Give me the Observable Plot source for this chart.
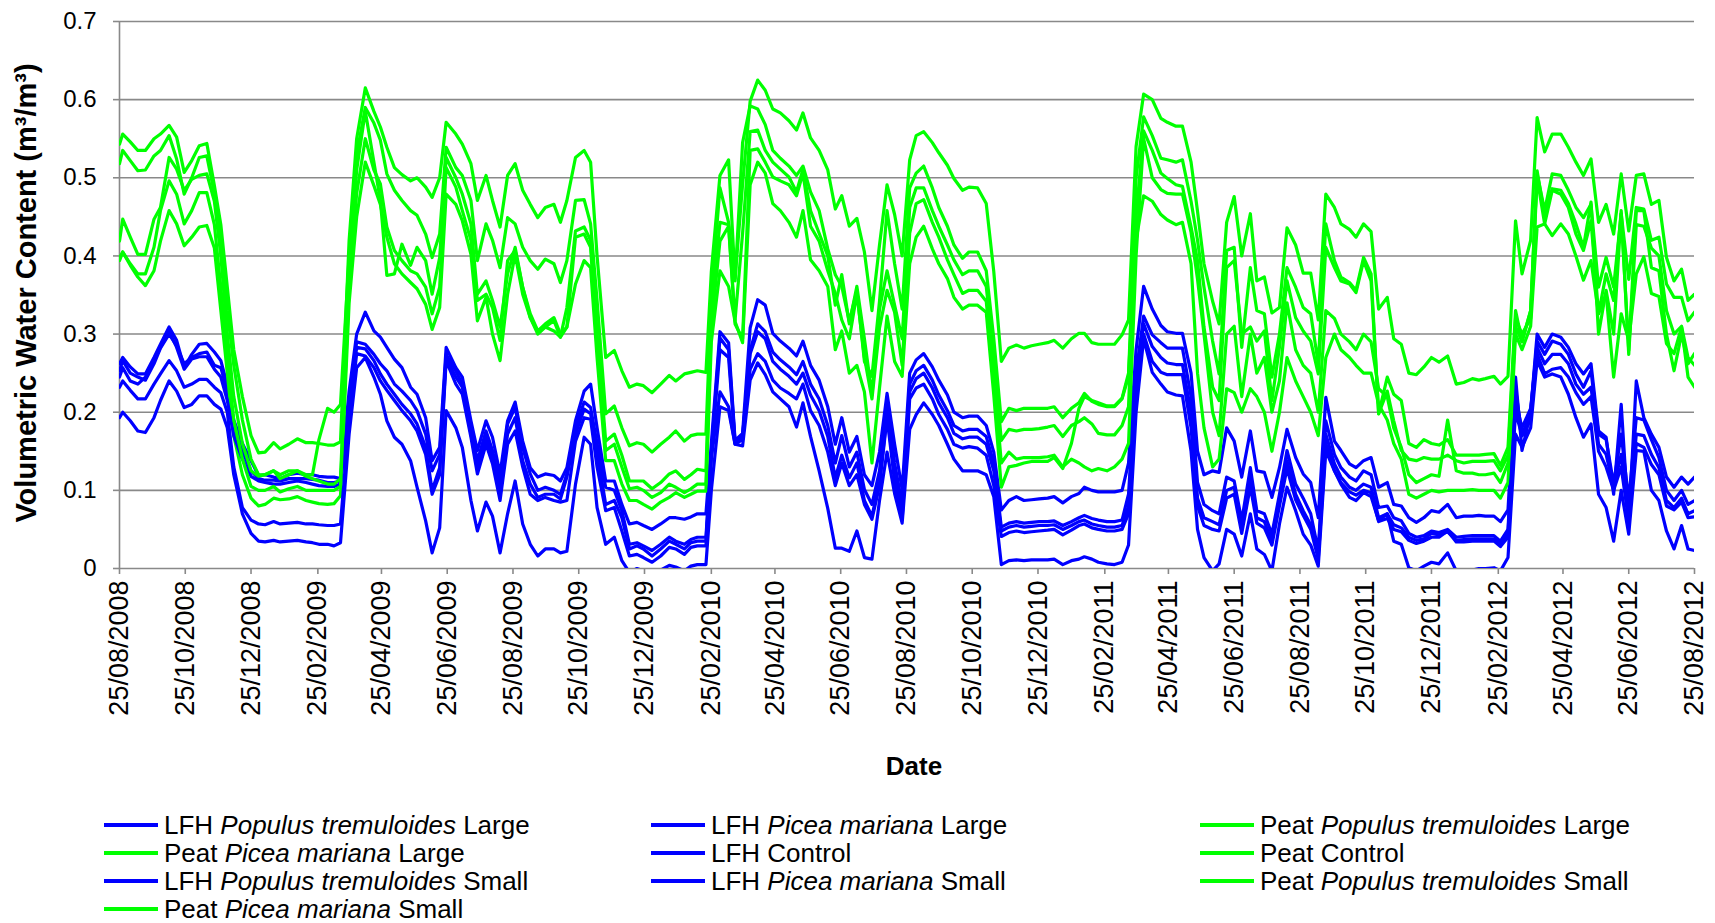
<!DOCTYPE html>
<html><head><meta charset="utf-8">
<script src="https://cdn.jsdelivr.net/npm/d3@7"></script>
<script src="https://cdn.jsdelivr.net/npm/@observablehq/plot@0.6"></script>
<style>
body{margin:0;background:#fff;font-family:'Liberation Sans',Arial,sans-serif;color:#000;}
#wrap{position:relative;width:1715px;height:923px;overflow:hidden;background:#fff;}
#chart{position:absolute;left:0;top:0;}
.leg{position:absolute;display:flex;align-items:center;font-size:26px;line-height:24px;height:24px;white-space:nowrap;}
.sw{width:54px;height:4px;margin-right:6px;flex:none;}
.ttl{position:absolute;font-weight:bold;white-space:nowrap;transform:translate(-50%,-50%);}
</style></head>
<body><div id="wrap"><div id="chart"></div></div>
<script>
// x values: days since 25/08/2008
const startDate = "2008-08-25";
const dayOffsets = [
0,3,10,17,24,32,38,46,53,60,67,74,81,88,94,100,106,114,122,129,
135,143,149,157,165,173,179,185,193,199,205,
213,220,228,236,242,248,255,262,270,276,284,290,297,
303,312,318,326,332,340,346,353,360,367,374,381,388,395,403,409,415,423,431,437,443,451,459,466,473,480,486,494,502,510,516,524,530,536,544,
549,557,565,571,578,585,592,599,606,613,621,628,634,641,649,657,664,670,677,684,691,698,705,712,719,726,733,739,746,754,760,768,774,782,788,796,804,811,818,
825,832,839,846,853,861,867,875,883,890,895,902,908,916,923,930,936,943,
950,958,966,972,980,986,994,1000,1006,1014,1020,1027,1034,1041,1049,1055,1062,1069,1076,1083,1091,1098,1105,1112,1119,1127,1133,1141,1147,1154,1161,1168,1176,1182,1189,1196,1203,1210,1217,1224,1232,1240,1247,1255,1261,1267,1275,1281,1288,
1295,1301,1309,1315,1322,1329,1337,1344,1351,1358,1365,1372,1379,1386,1393,1400,1407,1414,1421,1428,1435,1442,1449,1455,1461
];

const lfhPopulusLarge = [
.262,.270,.258,.249,.249,.270,.287,.309,.292,.257,.274,.287,.288,.277,.266,.235,.190,.160,.138,.119,
.120,.117,.115,.120,.122,.120,.120,.118,.117,.117,.115,
.227,.300,.328,.304,.296,.283,.268,.257,.232,.223,.193,.138,.155,
.283,.257,.245,.189,.151,.189,.168,.121,.189,.213,.163,.129,.117,.121,.119,.112,.129,.189,.227,.236,.180,.112,.112,.082,.057,.059,.055,.050,.057,.065,.065,.063,.066,.070,.070,
.160,.303,.289,.164,.173,.308,.344,.337,.301,.291,.282,.272,.291,.260,.241,.207,.159,.193,.149,.169,.120,.106,.149,.224,.159,.101,.250,.267,.275,.258,.241,.222,.200,.193,.195,.195,.183,.149,.075,
.087,.092,.087,.088,.089,.090,.092,.084,.092,.096,.104,.100,.098,.098,.098,.100,.135,.280,
.361,.332,.311,.303,.301,.301,.250,.150,.120,.125,.123,.180,.163,.117,.176,.125,.123,.091,.129,.178,.142,.121,.110,.065,.219,.163,.151,.134,.129,.138,.142,.104,.110,.082,.080,.065,.059,.065,.074,.072,.082,.065,.067,.067,.068,.067,.067,.060,.075,
.245,.151,.200,.300,.283,.300,.296,.283,.262,.249,.262,.176,.168,.095,.210,.057,.240,.193,.172,.155,.117,.104,.117,.108,.117
];
const lfhPiceaLarge = [
.253,.266,.250,.245,.241,.262,.282,.300,.285,.262,.270,.275,.277,.260,.257,.227,.180,.150,.125,.115,
.113,.113,.112,.115,.115,.115,.114,.113,.110,.110,.112,
.215,.290,.287,.274,.262,.253,.236,.227,.215,.202,.172,.125,.146,
.274,.253,.236,.180,.138,.176,.151,.108,.185,.206,.155,.121,.100,.104,.100,.095,.121,.180,.213,.206,.160,.104,.100,.074,.031,.033,.029,.023,.031,.040,.035,.031,.037,.040,.040,
.150,.295,.280,.162,.170,.279,.313,.303,.277,.267,.258,.248,.265,.236,.217,.183,.135,.170,.130,.149,.101,.082,.125,.217,.135,.082,.236,.253,.260,.241,.222,.202,.183,.176,.178,.178,.169,.135,.053,
.058,.060,.058,.059,.060,.060,.061,.055,.060,.065,.068,.064,.062,.060,.060,.062,.095,.250,
.323,.299,.289,.282,.282,.282,.220,.110,.082,.074,.070,.117,.112,.061,.129,.074,.070,.044,.095,.151,.108,.090,.070,.023,.189,.146,.129,.117,.112,.125,.120,.078,.080,.065,.061,.045,.040,.042,.048,.046,.050,.040,.041,.042,.042,.042,.042,.035,.050,
.230,.170,.200,.291,.274,.291,.287,.274,.249,.232,.253,.172,.165,.108,.172,.087,.193,.190,.165,.142,.100,.087,.100,.082,.087
];
const peatPopulusLarge = [
.543,.556,.546,.535,.535,.550,.556,.567,.552,.507,.522,.541,.544,.490,.440,.360,.280,.220,.170,.148,
.149,.161,.153,.159,.166,.161,.161,.160,.158,.158,.162,
.420,.550,.615,.585,.565,.539,.513,.504,.496,.500,.488,.475,.500,
.571,.556,.543,.518,.471,.503,.471,.437,.503,.518,.484,.466,.449,.462,.466,.443,.471,.526,.535,.520,.400,.270,.279,.253,.232,.236,.234,.225,.236,.247,.240,.249,.251,.253,.251,
.380,.503,.523,.371,.492,.598,.625,.612,.588,.583,.573,.561,.583,.551,.535,.510,.460,.477,.438,.448,.405,.330,.414,.491,.453,.400,.523,.554,.559,.545,.532,.516,.499,.484,.488,.487,.467,.380,.265,
.282,.286,.282,.285,.287,.289,.292,.282,.294,.301,.301,.289,.287,.287,.287,.299,.318,.540,
.607,.600,.576,.571,.566,.566,.520,.457,.390,.342,.313,.443,.476,.400,.454,.368,.373,.327,.334,.436,.414,.378,.378,.318,.479,.462,.441,.434,.424,.441,.431,.332,.347,.294,.287,.250,.248,.258,.270,.264,.272,.236,.238,.243,.241,.243,.246,.236,.246,
.445,.377,.420,.577,.533,.556,.556,.539,.520,.503,.524,.443,.466,.428,.505,.432,.503,.505,.466,.471,.398,.368,.383,.343,.351
];
const peatPiceaLarge = [
.518,.535,.522,.509,.510,.528,.535,.554,.524,.479,.500,.526,.528,.480,.420,.330,.260,.190,.140,.120,
.120,.125,.120,.125,.125,.120,.120,.165,.205,.200,.210,
.400,.530,.590,.570,.548,.505,.484,.471,.458,.452,.428,.398,.428,
.539,.513,.503,.471,.394,.441,.420,.385,.449,.441,.411,.394,.383,.396,.390,.366,.394,.471,.472,.441,.343,.198,.208,.180,.157,.161,.159,.149,.159,.168,.176,.163,.170,.172,.172,
.350,.487,.443,.368,.545,.592,.588,.568,.535,.525,.515,.503,.515,.482,.458,.409,.376,.361,.316,.356,.265,.246,.342,.458,.390,.332,.487,.506,.515,.487,.462,.438,.414,.397,.405,.405,.381,.294,.188,
.205,.202,.205,.205,.205,.205,.207,.193,.205,.212,.224,.214,.210,.207,.207,.217,.246,.500,
.578,.554,.525,.523,.520,.523,.470,.420,.360,.291,.249,.407,.411,.283,.385,.330,.326,.245,.300,.385,.360,.334,.326,.262,.441,.394,.373,.366,.356,.398,.377,.198,.245,.223,.215,.160,.155,.165,.160,.158,.165,.145,.145,.145,.145,.146,.147,.132,.155,
.330,.291,.330,.505,.458,.505,.503,.484,.462,.449,.466,.360,.398,.360,.454,.370,.462,.460,.420,.424,.364,.347,.347,.317,.328
];
const lfhControl = [
.193,.200,.189,.176,.174,.193,.215,.240,.227,.206,.210,.221,.221,.210,.204,.180,.120,.070,.045,.035,
.034,.036,.034,.035,.036,.034,.033,.031,.031,.029,.033,
.172,.257,.270,.245,.223,.189,.168,.159,.138,.104,.061,.020,.052,
.202,.180,.155,.087,.048,.085,.067,.020,.070,.112,.057,.031,.016,.025,.025,.020,.022,.108,.168,.159,.078,.031,.040,.010,-.005,0,-.003,-.008,-.002,.004,.002,-.003,.003,.005,.005,
.100,.207,.202,.159,.157,.241,.263,.248,.226,.217,.207,.181,.212,.169,.125,.077,.026,.026,.022,.048,.014,.012,.087,.149,.096,.058,.178,.197,.212,.197,.183,.159,.140,.125,.125,.125,.120,.092,.005,
.010,.011,.010,.011,.011,.011,.012,.005,.010,.012,.015,.012,.008,.006,.005,.008,.030,.200,
.294,.251,.236,.226,.222,.221,.150,.050,.014,-.003,.006,.050,.044,.016,.070,.025,.018,-.003,.057,.104,.074,.044,.030,.003,.151,.125,.108,.091,.087,.097,.092,.061,.070,.035,.031,.001,-.003,.003,.008,.006,.020,-.003,-.003,-.002,.000,.000,.001,-.003,.014,
.172,.155,.180,.266,.245,.249,.245,.223,.193,.168,.185,.095,.078,.035,.100,.044,.151,.150,.100,.087,.048,.025,.055,.025,.023
];
const peatControl = [
.394,.405,.388,.373,.362,.381,.419,.458,.441,.413,.424,.437,.439,.410,.330,.250,.170,.120,.090,.080,
.082,.090,.088,.089,.092,.087,.085,.083,.082,.083,.093,
.340,.450,.520,.490,.466,.424,.390,.377,.366,.358,.338,.306,.334,
.479,.466,.445,.402,.317,.347,.300,.266,.351,.402,.351,.321,.300,.309,.304,.296,.309,.364,.394,.385,.270,.138,.138,.108,.087,.087,.082,.076,.085,.091,.097,.091,.095,.099,.099,
.290,.381,.361,.316,.289,.491,.520,.506,.467,.458,.443,.424,.458,.395,.381,.361,.280,.304,.250,.260,.226,.135,.231,.323,.265,.246,.390,.424,.438,.409,.390,.371,.347,.332,.337,.337,.328,.222,.104,
.130,.132,.135,.137,.137,.137,.142,.128,.160,.205,.220,.215,.212,.208,.208,.218,.250,.420,
.477,.470,.453,.446,.440,.443,.390,.250,.180,.130,.140,.230,.225,.200,.230,.220,.200,.150,.200,.270,.240,.220,.200,.170,.270,.300,.280,.270,.260,.250,.250,.210,.190,.160,.140,.095,.090,.095,.100,.098,.100,.100,.100,.101,.100,.100,.100,.090,.110,
.300,.280,.310,.437,.441,.426,.441,.428,.400,.369,.394,.326,.352,.245,.326,.292,.377,.399,.352,.348,.288,.275,.309,.245,.232
];
const lfhPopulusSmall = [
.245,.257,.240,.236,.245,.266,.283,.304,.283,.255,.268,.271,.271,.255,.245,.215,.170,.140,.118,.112,
.110,.108,.108,.110,.112,.110,.108,.106,.105,.105,.108,
.205,.283,.281,.266,.249,.236,.223,.210,.198,.185,.155,.100,.129,
.270,.245,.232,.172,.129,.168,.142,.100,.172,.193,.138,.108,.091,.095,.095,.089,.117,.172,.204,.198,.150,.082,.087,.065,.025,.029,.025,.016,.025,.035,.031,.025,.033,.035,.035,
.145,.280,.270,.160,.168,.275,.303,.294,.265,.255,.246,.236,.250,.222,.202,.169,.116,.145,.116,.135,.087,.067,.111,.197,.120,.072,.226,.243,.250,.231,.212,.193,.173,.166,.168,.168,.159,.125,.048,
.053,.055,.053,.054,.055,.055,.056,.050,.055,.060,.062,.057,.055,.053,.053,.055,.080,.240,
.313,.284,.270,.263,.261,.261,.200,.090,.065,.060,.056,.100,.104,.052,.117,.065,.060,.035,.087,.138,.095,.074,.056,.018,.172,.134,.117,.104,.100,.108,.104,.065,.070,.056,.052,.040,.036,.038,.045,.043,.047,.036,.037,.038,.038,.038,.038,.032,.045,
.215,.180,.205,.283,.262,.274,.274,.262,.236,.223,.232,.159,.146,.104,.146,.065,.172,.170,.146,.129,.087,.078,.090,.070,.074
];
const lfhPiceaSmall = [
.232,.240,.228,.217,.217,.236,.249,.266,.253,.232,.236,.242,.242,.232,.225,.200,.130,.078,.062,.057,
.056,.060,.057,.058,.059,.057,.057,.056,.055,.055,.057,
.190,.275,.272,.257,.240,.228,.215,.202,.189,.176,.146,.095,.120,
.266,.236,.223,.168,.121,.159,.134,.087,.159,.176,.130,.095,.087,.091,.087,.085,.087,.163,.193,.191,.130,.074,.078,.048,.016,.018,.014,.008,.016,.027,.025,.018,.027,.029,.029,
.140,.226,.207,.159,.165,.255,.275,.265,.241,.231,.224,.217,.236,.202,.183,.149,.106,.135,.106,.120,.082,.063,.106,.193,.111,.063,.217,.231,.236,.217,.197,.178,.159,.154,.156,.154,.145,.106,.041,
.046,.048,.046,.047,.048,.049,.050,.043,.049,.055,.057,.052,.050,.048,.048,.050,.070,.230,
.300,.265,.251,.248,.248,.248,.180,.080,.055,.050,.048,.090,.095,.045,.105,.058,.052,.030,.080,.128,.088,.068,.050,.012,.160,.125,.110,.098,.094,.100,.097,.060,.064,.050,.047,.036,.032,.035,.040,.040,.048,.034,.034,.035,.035,.035,.035,.028,.040,
.200,.170,.190,.275,.249,.255,.257,.245,.225,.210,.220,.150,.130,.100,.130,.060,.160,.155,.133,.120,.080,.075,.085,.065,.066
];
const peatPopulusSmall = [
.419,.447,.424,.402,.402,.447,.462,.526,.511,.484,.498,.503,.505,.470,.400,.300,.220,.160,.125,.118,
.120,.125,.115,.120,.125,.118,.115,.112,.108,.108,.115,
.380,.510,.585,.520,.471,.375,.377,.415,.388,.411,.394,.351,.398,
.526,.500,.479,.441,.351,.368,.343,.309,.377,.411,.360,.326,.304,.309,.317,.296,.334,.432,.437,.420,.300,.163,.172,.145,.112,.112,.112,.102,.110,.121,.125,.114,.120,.127,.125,
.330,.443,.440,.318,.429,.559,.561,.535,.520,.511,.501,.482,.511,.458,.429,.400,.337,.376,.313,.361,.294,.222,.332,.381,.337,.294,.462,.487,.487,.458,.438,.414,.395,.376,.381,.381,.361,.270,.164,
.178,.176,.178,.178,.179,.181,.183,.169,.183,.188,.193,.185,.173,.171,.171,.183,.207,.450,
.560,.535,.506,.499,.491,.489,.437,.394,.309,.232,.215,.385,.394,.300,.309,.291,.304,.215,.283,.368,.321,.304,.291,.249,.411,.385,.368,.364,.353,.394,.368,.198,.227,.189,.151,.140,.138,.142,.140,.140,.145,.138,.135,.137,.137,.137,.138,.125,.145,
.320,.300,.320,.500,.441,.484,.479,.462,.428,.407,.445,.326,.377,.343,.458,.274,.440,.438,.410,.400,.330,.300,.310,.270,.260
];
const peatPiceaSmall = [
.398,.405,.390,.377,.377,.411,.458,.496,.479,.441,.458,.481,.481,.440,.360,.270,.190,.140,.105,.100,
.100,.105,.098,.102,.105,.100,.100,.100,.100,.100,.105,
.360,.480,.550,.510,.492,.437,.407,.394,.381,.377,.360,.326,.360,
.513,.488,.458,.420,.343,.351,.334,.292,.394,.407,.360,.321,.304,.313,.321,.300,.309,.424,.428,.411,.290,.151,.159,.130,.102,.104,.100,.091,.097,.108,.104,.097,.102,.108,.108,
.310,.419,.438,.313,.294,.535,.537,.520,.501,.496,.491,.477,.506,.438,.419,.381,.352,.318,.294,.352,.270,.217,.308,.356,.328,.260,.429,.467,.472,.443,.424,.395,.376,.352,.356,.356,.342,.246,.135,
.149,.140,.142,.142,.142,.143,.145,.130,.140,.135,.130,.125,.128,.125,.130,.140,.160,.400,
.550,.500,.485,.480,.479,.479,.430,.370,.300,.200,.170,.300,.310,.220,.300,.250,.270,.200,.240,.340,.280,.260,.250,.200,.330,.320,.300,.290,.280,.300,.290,.230,.220,.180,.155,.120,.110,.115,.120,.118,.190,.125,.122,.122,.120,.120,.122,.110,.135,
.310,.290,.330,.509,.450,.486,.484,.467,.441,.411,.469,.300,.356,.300,.454,.279,.458,.458,.385,.381,.300,.253,.300,.262,.275
];

const seriesNames = [
  "LFH Populus tremuloides Large", "LFH Picea mariana Large", "Peat Populus tremuloides Large",
  "Peat Picea mariana Large", "LFH Control", "Peat Control",
  "LFH Populus tremuloides Small", "LFH Picea mariana Small", "Peat Populus tremuloides Small",
  "Peat Picea mariana Small"
];
const seriesColors = ["#0000FF","#0000FF","#00FF00","#00FF00","#0000FF","#00FF00","#0000FF","#0000FF","#00FF00","#00FF00"];
const seriesValues = [lfhPopulusLarge, lfhPiceaLarge, peatPopulusLarge, peatPiceaLarge, lfhControl, peatControl,
  lfhPopulusSmall, lfhPiceaSmall, peatPopulusSmall, peatPiceaSmall];

const yTickValues = [0, 0.1, 0.2, 0.3, 0.4, 0.5, 0.6, 0.7];
const yTickLabels = ["0", "0.1", "0.2", "0.3", "0.4", "0.5", "0.6", "0.7"];
const xTickLabels = ["25/08/2008","25/10/2008","25/12/2008","25/02/2009","25/04/2009","25/06/2009","25/08/2009",
  "25/10/2009","25/12/2009","25/02/2010","25/04/2010","25/06/2010","25/08/2010","25/10/2010","25/12/2010",
  "25/02/2011","25/04/2011","25/06/2011","25/08/2011","25/10/2011","25/12/2011","25/02/2012","25/04/2012",
  "25/06/2012","25/08/2012"];

const yTitle = "Volumetric Water Content (m³/m³)";
const xTitle = "Date";

// ---- build ----
const start = new Date(startDate + "T00:00:00Z");
const toDate = d => new Date(start.getTime() + d * 864e5);
const parseDMY = s => { const [d, m, y] = s.split("/").map(Number); return new Date(Date.UTC(y, m - 1, d)); };
const xTicks = xTickLabels.map(parseDMY);
const xLabelMap = new Map(xTicks.map((t, i) => [+t, xTickLabels[i]]));
const yLabelMap = new Map(yTickValues.map((v, i) => [v, yTickLabels[i]]));

const lineMarks = seriesValues.map((vals, k) => {
  const n = Math.min(vals.length, dayOffsets.length);
  const rows = d3.range(n).map(j => ({date: toDate(dayOffsets[j]), value: vals[j]}));
  return Plot.line(rows, {x: "date", y: "value", stroke: seriesColors[k], strokeWidth: 3.2,
    strokeLinejoin: "round", clip: true});
});

const gridColor = "#898989";
const chart = Plot.plot({
  width: 1715, height: 800,
  marginLeft: 119, marginRight: 21, marginTop: 21, marginBottom: 232,
  style: {fontFamily: "'Liberation Sans', Arial, sans-serif", fontSize: "24px", color: "#000", background: "#fff", overflow: "visible"},
  x: {type: "utc", domain: [xTicks[0], xTicks[xTicks.length - 1]]},
  y: {domain: [0, 0.7]},
  marks: [
    Plot.ruleY(yTickValues, {stroke: gridColor, strokeWidth: 1.6}),
    Plot.ruleX([xTicks[0]], {stroke: gridColor, strokeWidth: 1.6}),
    Plot.axisY({ticks: yTickValues, tickFormat: d => yLabelMap.get(d), tickSize: 6, tickPadding: 17,
      stroke: gridColor, strokeWidth: 1.6, fill: "#000", fontSize: 24, label: null}),
    Plot.axisX({ticks: xTicks, tickFormat: d => xLabelMap.get(+d), tickRotate: -90, tickSize: 6, tickPadding: 6,
      stroke: gridColor, strokeWidth: 1.6, fill: "#000", fontSize: 27, label: null}),
    ...lineMarks
  ]
});
const wrap = document.getElementById("wrap");
document.getElementById("chart").appendChild(chart);

// axis titles
const yt = document.createElement("div");
yt.className = "ttl"; yt.textContent = yTitle;
yt.style.cssText = "left:26px;top:293px;font-size:29px;transform:translate(-50%,-50%) rotate(-90deg);";
wrap.appendChild(yt);
const xt = document.createElement("div");
xt.className = "ttl"; xt.textContent = xTitle;
xt.style.cssText = "left:914px;top:766px;font-size:26px;";
wrap.appendChild(xt);

// legend
const colX = [104, 651, 1200];
const rowY = [825, 853, 881, 909];
seriesNames.forEach((name, i) => {
  const c = i % 3, r = Math.floor(i / 3);
  const el = document.createElement("div");
  el.className = "leg";
  el.style.left = colX[c] + "px";
  el.style.top = (rowY[r] - 12) + "px";
  const sw = document.createElement("div");
  sw.className = "sw"; sw.style.background = seriesColors[i];
  el.appendChild(sw);
  const tx = document.createElement("span");
  tx.innerHTML = name.replace(/(Populus tremuloides|Picea mariana)/, "<i>$1</i>");
  el.appendChild(tx);
  wrap.appendChild(el);
});
</script>
</body></html>
